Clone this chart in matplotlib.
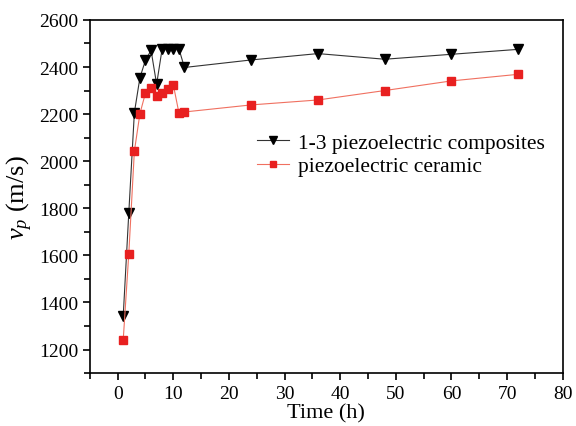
import matplotlib
matplotlib.use('Agg')
import matplotlib.pyplot as plt
from matplotlib.ticker import MultipleLocator

plt.rcParams['font.family'] = ['Liberation Serif', 'DejaVu Serif']
plt.rcParams['mathtext.fontset'] = 'custom'
plt.rcParams['mathtext.it'] = 'Liberation Serif:italic'
plt.rcParams['mathtext.rm'] = 'Liberation Serif'

# time (h)
time_h = [1, 2, 3, 4, 5, 6, 7, 8, 9, 10, 11, 12, 24, 36, 48, 60, 72]
# 1-3 piezoelectric composites
vp_comp = [1344, 1781, 2206, 2355, 2429, 2471, 2327, 2478, 2478, 2478, 2478,
           2398, 2430, 2457, 2433, 2454, 2475]
# piezoelectric ceramic
vp_cer = [1242, 1607, 2042, 2202, 2290, 2311, 2276, 2288, 2308, 2325, 2206,
          2209, 2239, 2260, 2300, 2341, 2369]

fig = plt.figure(figsize=(5.76, 4.27), dpi=100)
ax = fig.add_axes([0.156, 0.124, 0.821, 0.827])

ax.plot(time_h, vp_comp, color='#333333', lw=0.8, marker='v', ms=7,
        mfc='black', mec='black', label='1-3 piezoelectric composites')
ax.plot(time_h, vp_cer, color='#f07060', lw=0.8, marker='s', ms=5.5,
        mfc='#e82020', mec='#e82020', label='piezoelectric ceramic')

ax.set_xlim(-5, 80)
ax.set_ylim(1100, 2600)
ax.xaxis.set_major_locator(MultipleLocator(10))
ax.xaxis.set_minor_locator(MultipleLocator(5))
ax.yaxis.set_major_locator(MultipleLocator(200))
ax.yaxis.set_minor_locator(MultipleLocator(100))
ax.tick_params(which='both', direction='out', labelsize=14, width=1.2)
ax.tick_params(which='major', length=5)
ax.tick_params(which='minor', length=4)
for s in ax.spines.values():
    s.set_linewidth(1.2)

ax.set_xlabel('Time (h)', fontsize=16, labelpad=1)
ax.set_ylabel('$v_p$ (m/s)', fontsize=19, labelpad=3)

ax.legend(loc='upper left', bbox_to_anchor=(0.335, 0.705), frameon=False,
          fontsize=15.5, handlelength=1.5, handletextpad=0.4, labelspacing=0.15,
          borderaxespad=0, markerscale=0.85)

fig.savefig('out.png', dpi=100)
